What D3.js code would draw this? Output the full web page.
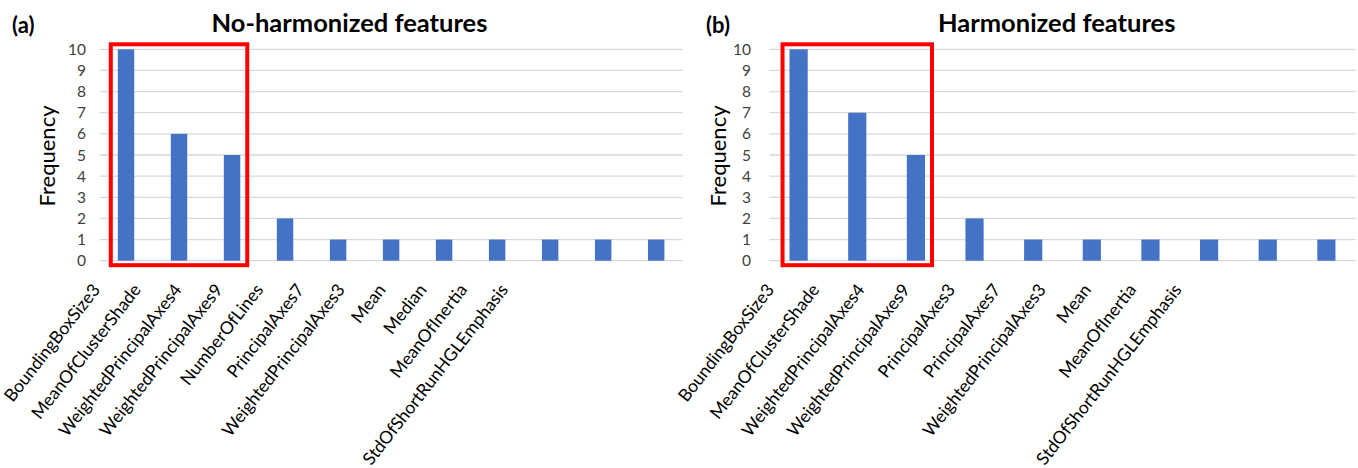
<!DOCTYPE html>
<html>
<head>
<meta charset="utf-8">
<script src="https://cdn.jsdelivr.net/npm/d3@7"></script>
<style>
  html, body { margin: 0; padding: 0; background: #fff; }
  svg { display: block; font-family: Lato, "Open Sans", sans-serif; }
</style>
</head>
<body>
<svg id="chart" width="1358" height="468"></svg>
<script>
// Feature selection frequency, before and after harmonization
const featuresA = ["BoundingBoxSize3", "MeanOfClusterShade", "WeightedPrincipalAxes4",
  "WeightedPrincipalAxes9", "NumberOfLines", "PrincipalAxes7", "WeightedPrincipalAxes3",
  "Mean", "Median", "MeanOfInertia", "StdOfShortRunHGLEmphasis"];
const freqA = [10, 6, 5, 2, 1, 1, 1, 1, 1, 1, 1];

const featuresB = ["BoundingBoxSize3", "MeanOfClusterShade", "WeightedPrincipalAxes4",
  "WeightedPrincipalAxes9", "PrincipalAxes3", "PrincipalAxes7", "WeightedPrincipalAxes3",
  "Mean", "MeanOfInertia", "StdOfShortRunHGLEmphasis"];
const freqB = [10, 7, 5, 2, 1, 1, 1, 1, 1, 1];

const yTicks = [0, 1, 2, 3, 4, 5, 6, 7, 8, 9, 10];
const titles = ["No-harmonized features", "Harmonized features"];
const tags = ["(a)", "(b)"];
const yLabel = "Frequency";
const highlightCount = 3;   // top features framed in red

const svg = d3.select("#chart");

const panels = [
  { tag: tags[0], title: titles[0], cats: featuresA, vals: freqA,
    left: 99.5, right: 682.7, labFirst: 101, labLast: 509, tickRight: 86,
    freqX: 47, titleX: 349.5, tagX: 12 },
  { tag: tags[1], title: titles[1], cats: featuresB, vals: freqB,
    left: 769.3, right: 1355.7, labFirst: 775, labLast: 1182.5, tickRight: 751,
    freqX: 718, titleX: 1056.7, tagX: 706 }
];

const yTop = 49.3, yBottom = 260.7;

panels.forEach(p => {
  const g = svg.append("g");

  const x = d3.scaleBand().domain(p.cats).range([p.left, p.right])
    .paddingInner(0.69).paddingOuter(0.345);
  const xLab = d3.scalePoint().domain(p.cats).range([p.labFirst, p.labLast]);
  const y = d3.scaleLinear().domain([0, 10]).range([yBottom, yTop]);

  // horizontal gridlines
  g.selectAll("line.grid").data(yTicks).join("line")
    .attr("class", "grid")
    .attr("x1", p.left).attr("x2", p.right)
    .attr("y1", d => y(d)).attr("y2", d => y(d))
    .attr("stroke", "#d9d9d9").attr("stroke-width", 1.3);

  // y tick labels
  g.selectAll("text.ytick").data(yTicks).join("text")
    .attr("class", "ytick")
    .attr("x", p.tickRight).attr("y", d => y(d)).attr("dy", "0.36em")
    .attr("text-anchor", "end")
    .attr("font-size", 15.5).attr("fill", "#404040")
    .text(d => d);

  // bars
  g.selectAll("rect.bar").data(p.vals).join("rect")
    .attr("class", "bar")
    .attr("x", (d, i) => x(p.cats[i]))
    .attr("width", x.bandwidth())
    .attr("y", d => y(d))
    .attr("height", d => y(0) - y(d))
    .attr("fill", "#4472c4");

  // category labels
  g.selectAll("text.xlab").data(p.cats).join("text")
    .attr("class", "xlab")
    .attr("transform", d => `translate(${xLab(d)},290) rotate(-52)`)
    .attr("text-anchor", "end")
    .attr("font-size", 17.5).attr("fill", "#000")
    .text(d => d);

  // y axis title
  g.append("text")
    .attr("transform", `translate(${p.freqX},156) rotate(-90)`)
    .attr("text-anchor", "middle").attr("dy", "0.35em")
    .attr("font-size", 22).attr("fill", "#000")
    .text(yLabel);

  // chart title and panel tag
  g.append("text")
    .attr("x", p.titleX).attr("y", 32)
    .attr("text-anchor", "middle")
    .attr("font-size", 25.5).attr("font-weight", "bold")
    .text(p.title);
  g.append("text")
    .attr("x", p.tagX).attr("y", 33)
    .attr("font-size", 22).attr("font-weight", "bold")
    .text(p.tag);

  // red frame around the most frequent features
  const first = p.cats[0], last = p.cats[highlightCount - 1];
  const x0 = x(first) - 7, x1 = x(last) + x.bandwidth() + 7;
  g.append("rect")
    .attr("x", x0).attr("y", y(10) - 5)
    .attr("width", x1 - x0).attr("height", y(0) - y(10) + 9.5)
    .attr("fill", "none").attr("stroke", "#ff0000").attr("stroke-width", 4);
});
</script>
</body>
</html>
